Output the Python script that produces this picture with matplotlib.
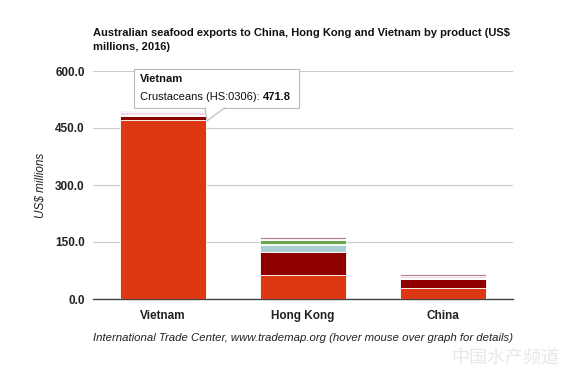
import matplotlib
matplotlib.use("Agg")
import matplotlib.pyplot as plt
from matplotlib.patches import Polygon, Rectangle
import numpy as np

plt.rcParams['font.family'] = ['Liberation Sans', 'DejaVu Sans']

countries = ["Vietnam", "Hong Kong", "China"]
series_names = ["Crustaceans (HS:0306)", "Molluscs", "Fish fillets", "Fish, frozen",
                "Fish, fresh", "Other", "Prepared"]
series_values = [
    [471.8, 63.0, 29.0],
    [11.0, 61.0, 23.0],
    [0.5, 18.0, 1.5],
    [0.5, 4.0, 0.5],
    [0.5, 8.0, 0.5],
    [8.0, 4.0, 7.0],
    [3.5, 4.0, 4.0],
]
series_colors = ["#dc3912", "#8e0000", "#a9cfd0", "#cfe3c4", "#6aa84f", "#efdbe6", "#b77a9a"]
yticks = [0, 150, 300, 450, 600]
title = "Australian seafood exports to China, Hong Kong and Vietnam by product (US$\nmillions, 2016)"
caption = "International Trade Center, www.trademap.org (hover mouse over graph for details)"

fig = plt.figure(figsize=(5.82, 3.72), dpi=100)
W, H = 582, 372
ax = fig.add_axes([93 / W, 1 - 299 / H, 420 / W, 228 / H])

x = np.arange(len(countries))
bottom = np.zeros(len(countries))
for name, vals, col in zip(series_names, series_values, series_colors):
    vals = np.array(vals)
    ax.bar(x, vals, width=0.615, bottom=bottom, color=col, edgecolor="white",
           linewidth=0.6, zorder=3, label=name)
    bottom += vals

ax.set_xlim(-0.5, 2.5)
ax.set_ylim(0, 600)
ax.set_yticks(yticks)
ax.set_yticklabels([f"{v:.1f}" for v in yticks], fontsize=8.5, fontweight="bold", color="#222222")
ax.set_xticks(x)
ax.set_xticklabels(countries, fontsize=8.5, fontweight="bold", color="#222222")
ax.tick_params(axis="both", length=0, pad=6)
ax.tick_params(axis="x", pad=8)
for s in ["top", "right", "left"]:
    ax.spines[s].set_visible(False)
ax.spines["bottom"].set_color("#444444")
ax.spines["bottom"].set_linewidth(1.0)
ax.yaxis.grid(True, color="#cccccc", linewidth=0.8, zorder=0)
ax.set_axisbelow(True)
ax.set_ylabel("US$ millions", fontsize=8.5, fontstyle="italic", color="#222222", labelpad=6)

fig.text(93 / W, 1 - 40 / H, title, fontsize=8.0, fontweight="bold", ha="left", va="center",
         color="#111111", linespacing=1.45)
fig.text(303 / W, 1 - 338 / H, caption, fontsize=8.2, fontstyle="italic", ha="center",
         va="center", color="#222222")

# tooltip
def fp(px, py):
    return (px / W, 1 - py / H)

box = Rectangle(fp(134, 108), 165 / W, 39 / H, transform=fig.transFigure,
                facecolor="white", edgecolor="#bbbbbb", linewidth=0.8, zorder=10)
fig.patches.append(box)
tri = Polygon([fp(205, 107.5), fp(207, 121), fp(225, 107.5)], closed=False,
              transform=fig.transFigure, facecolor="white", edgecolor="#bbbbbb",
              linewidth=0.8, zorder=11)
fig.patches.append(tri)
cover = Polygon([fp(205.6, 108.6), fp(224, 108.6), fp(205.6, 107.3), fp(224.4, 107.3)],
                closed=True, transform=fig.transFigure, facecolor="white",
                edgecolor="none", zorder=12)
fig.patches.append(cover)
fig.text(140 / W, 1 - 79 / H, countries[0], fontsize=8, fontweight="bold", ha="left",
         va="center", color="#111111", zorder=13)
t = fig.text(140 / W, 1 - 97 / H, series_names[0] + ": ", fontsize=8, ha="left",
             va="center", color="#111111", zorder=13)
fig.canvas.draw()
bb = t.get_window_extent()
fig.text(bb.x1 / W, 1 - 97 / H, f"{series_values[0][0]:.1f}", fontsize=8,
         fontweight="bold", ha="left", va="center", color="#111111", zorder=13)

# watermark
fig.text(505 / W, 1 - 358 / H, "中国水产频道", fontsize=13, ha="center", va="center",
         color="#d8d8d8", alpha=0.6, family=["Noto Sans CJK SC", "DejaVu Sans"])

fig.savefig("out.png", dpi=100)
